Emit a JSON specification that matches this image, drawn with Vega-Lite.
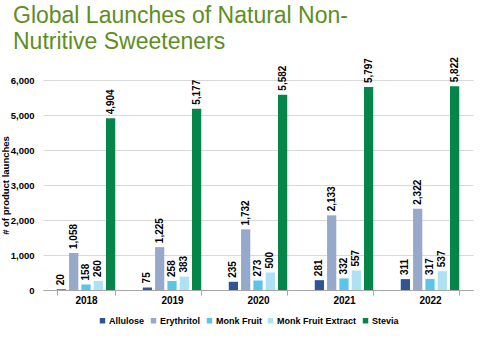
{
  "$schema": "https://vega.github.io/schema/vega-lite/v6.json",
  "width": 430,
  "height": 210,
  "autosize": {"type": "none"},
  "padding": {"left": 43, "top": 80, "right": 7, "bottom": 70},
  "background": "white",
  "title": {
    "text": ["Global Launches of Natural Non-", "Nutritive Sweeteners"],
    "anchor": "start",
    "frame": "group",
    "dx": -30,
    "offset": 3,
    "font": "Liberation Sans",
    "fontSize": 23,
    "fontWeight": "normal",
    "color": "#5E8E1E",
    "lineHeight": 26
  },
  "config": {
    "view": {"stroke": null},
    "font": "Liberation Sans"
  },
  "data": {
    "values": [
      {"year": "2018", "sweetener": "Allulose", "value": 20},
      {"year": "2018", "sweetener": "Erythritol", "value": 1058},
      {"year": "2018", "sweetener": "Monk Fruit", "value": 158},
      {"year": "2018", "sweetener": "Monk Fruit Extract", "value": 260},
      {"year": "2018", "sweetener": "Stevia", "value": 4904},
      {"year": "2019", "sweetener": "Allulose", "value": 75},
      {"year": "2019", "sweetener": "Erythritol", "value": 1225},
      {"year": "2019", "sweetener": "Monk Fruit", "value": 258},
      {"year": "2019", "sweetener": "Monk Fruit Extract", "value": 383},
      {"year": "2019", "sweetener": "Stevia", "value": 5177},
      {"year": "2020", "sweetener": "Allulose", "value": 235},
      {"year": "2020", "sweetener": "Erythritol", "value": 1732},
      {"year": "2020", "sweetener": "Monk Fruit", "value": 273},
      {"year": "2020", "sweetener": "Monk Fruit Extract", "value": 500},
      {"year": "2020", "sweetener": "Stevia", "value": 5582},
      {"year": "2021", "sweetener": "Allulose", "value": 281},
      {"year": "2021", "sweetener": "Erythritol", "value": 2133},
      {"year": "2021", "sweetener": "Monk Fruit", "value": 332},
      {"year": "2021", "sweetener": "Monk Fruit Extract", "value": 557},
      {"year": "2021", "sweetener": "Stevia", "value": 5797},
      {"year": "2022", "sweetener": "Allulose", "value": 311},
      {"year": "2022", "sweetener": "Erythritol", "value": 2322},
      {"year": "2022", "sweetener": "Monk Fruit", "value": 317},
      {"year": "2022", "sweetener": "Monk Fruit Extract", "value": 537},
      {"year": "2022", "sweetener": "Stevia", "value": 5822}
    ]
  },
  "encoding": {
    "x": {
      "field": "year",
      "type": "nominal",
      "scale": {"paddingInner": 0.32, "paddingOuter": 0.16},
      "axis": {
        "title": null,
        "labelAngle": 0,
        "labelFont": "Liberation Sans",
        "labelFontSize": 10,
        "labelFontWeight": "bold",
        "labelColor": "#000000",
        "labelPadding": 0,
        "tickBand": "extent",
        "tickSize": 5,
        "tickColor": "#a6a6a6",
        "domainColor": "#a6a6a6",
        "grid": false
      }
    },
    "xOffset": {
      "field": "sweetener",
      "type": "nominal",
      "sort": ["Allulose", "Erythritol", "Monk Fruit", "Monk Fruit Extract", "Stevia"],
      "scale": {"paddingInner": 0.25, "paddingOuter": 0}
    },
    "y": {
      "field": "value",
      "type": "quantitative",
      "scale": {"domain": [0, 6000]},
      "axis": {
        "title": "# of product launches",
        "titleFont": "Liberation Sans",
        "titleFontSize": 9.5,
        "titleFontWeight": "bold",
        "titleColor": "#000000",
        "titlePadding": 0,
        "values": [0, 1000, 2000, 3000, 4000, 5000, 6000],
        "format": ",d",
        "labelFont": "Liberation Sans",
        "labelFontSize": 9.5,
        "labelFontWeight": "bold",
        "labelColor": "#000000",
        "labelPadding": 9,
        "domain": false,
        "ticks": false,
        "gridColor": "#d9d9d9",
        "gridWidth": 1
      }
    },
    "color": {
      "field": "sweetener",
      "type": "nominal",
      "sort": ["Allulose", "Erythritol", "Monk Fruit", "Monk Fruit Extract", "Stevia"],
      "scale": {
        "domain": ["Allulose", "Erythritol", "Monk Fruit", "Monk Fruit Extract", "Stevia"],
        "range": ["#2F5597", "#97A9CB", "#5BC5E9", "#ADE1F3", "#06854A"]
      },
      "legend": {
        "title": null,
        "orient": "none",
        "legendX": 55,
        "legendY": 236,
        "direction": "horizontal",
        "symbolType": "square",
        "symbolSize": 30,
        "symbolStrokeWidth": 0,
        "labelFont": "Liberation Sans",
        "labelFontSize": 9,
        "labelFontWeight": "bold",
        "labelColor": "#000000",
        "labelOffset": 2,
        "columnPadding": 4
      }
    }
  },
  "layer": [
    {"mark": {"type": "bar"}},
    {
      "mark": {
        "type": "text",
        "angle": 270,
        "align": "left",
        "baseline": "middle",
        "dx": 4,
        "font": "Liberation Sans",
        "fontSize": 10,
        "fontWeight": "bold",
        "color": "#000000"
      },
      "encoding": {
        "text": {"field": "value", "type": "quantitative", "format": ",d"},
        "color": {"value": "#000000"}
      }
    }
  ]
}
